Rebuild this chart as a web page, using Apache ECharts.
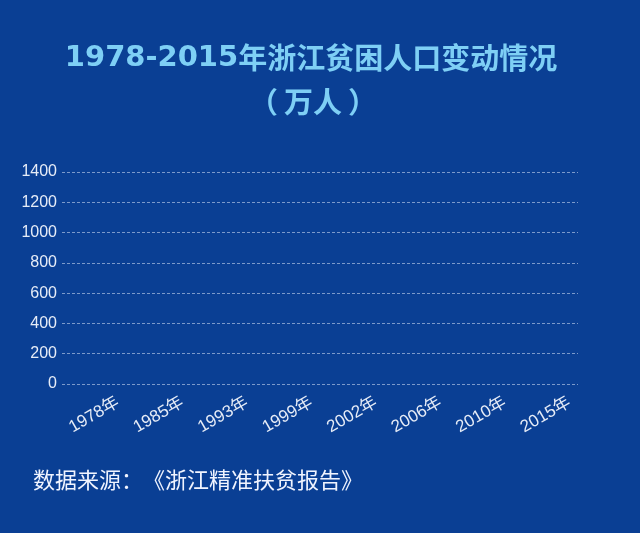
<!DOCTYPE html>
<html><head><meta charset="utf-8">
<script src="https://cdn.jsdelivr.net/npm/echarts@6/dist/echarts.min.js"></script>
<style>html,body{margin:0;padding:0;background:#0a3f94;}#c{width:640px;height:533px;}</style>
</head><body><div id="c"></div>
<script>
var categories = ['1978年','1985年','1993年','1999年','2002年','2006年','2010年','2015年'];
// The reference frame shows no bars yet (animation start frame): values not drawn
var poorPopulation = ['-','-','-','-','-','-','-','-'];
var yTicks = {min: 0, max: 1400, interval: 200};

var CJK = "'Noto Sans CJK SC', sans-serif";
var chart = echarts.init(document.getElementById('c'));
chart.setOption({
  backgroundColor: '#0a3f94',
  animation: false,
  title: [{
    text: '{d|1978-2015}{c|年浙江贫困人口变动情况}',
    left: 306, textAlign: 'center', top: 36,
    textStyle: {
      rich: {
        d: {color: '#7ecff5', fontSize: 29, fontWeight: 'bold', fontFamily: "'DejaVu Sans', sans-serif", lineHeight: 34},
        c: {color: '#7ecff5', fontSize: 29, fontWeight: 'bold', fontFamily: CJK, lineHeight: 34}
      }
    }
  }, {
    text: '{o|（}{c|万人}{e|）}',
    left: 308, textAlign: 'center', top: 80,
    textStyle: {
      rich: {
        o: {color: '#7ecff5', fontSize: 29, fontWeight: 'bold', fontFamily: CJK, lineHeight: 34, padding: [0, 6, 0, 0]},
        c: {color: '#7ecff5', fontSize: 29, fontWeight: 'bold', fontFamily: CJK, lineHeight: 34},
        e: {color: '#7ecff5', fontSize: 29, fontWeight: 'bold', fontFamily: CJK, lineHeight: 34, padding: [0, 0, 0, 6]}
      }
    }
  }, {
    text: '{t|数据来源：}{t|《浙江精准扶贫报告》}',
    left: 28, top: 460,
    textStyle: {
      rich: {
        t: {color: '#f0f4ff', fontSize: 22, fontWeight: 'normal', fontFamily: CJK, lineHeight: 30}
      }
    }
  }],
  grid: {left: 62, right: 62, top: 172, bottom: 149, containLabel: false},
  xAxis: {
    type: 'category', data: categories,
    axisLine: {show: false}, axisTick: {show: false},
    axisLabel: {color: '#e6ecf7', fontSize: 17, rotate: 30, align: 'center', margin: 31,
      interval: 0, fontFamily: "'Liberation Sans', Arial, 'Noto Sans CJK SC', sans-serif"}
  },
  yAxis: {
    type: 'value', min: yTicks.min, max: yTicks.max, interval: yTicks.interval,
    axisLine: {show: false}, axisTick: {show: false},
    axisLabel: {color: '#e6ecf7', fontSize: 16, margin: 5,
      formatter: function (v) { return String(v); },
      fontFamily: "'Liberation Sans', Arial, sans-serif"},
    splitLine: {lineStyle: {color: 'rgba(200,215,240,0.6)', type: [3, 2], width: 1}}
  },
  series: [{type: 'bar', data: poorPopulation, itemStyle: {color: '#7ecff5'}}]
});
</script></body></html>
